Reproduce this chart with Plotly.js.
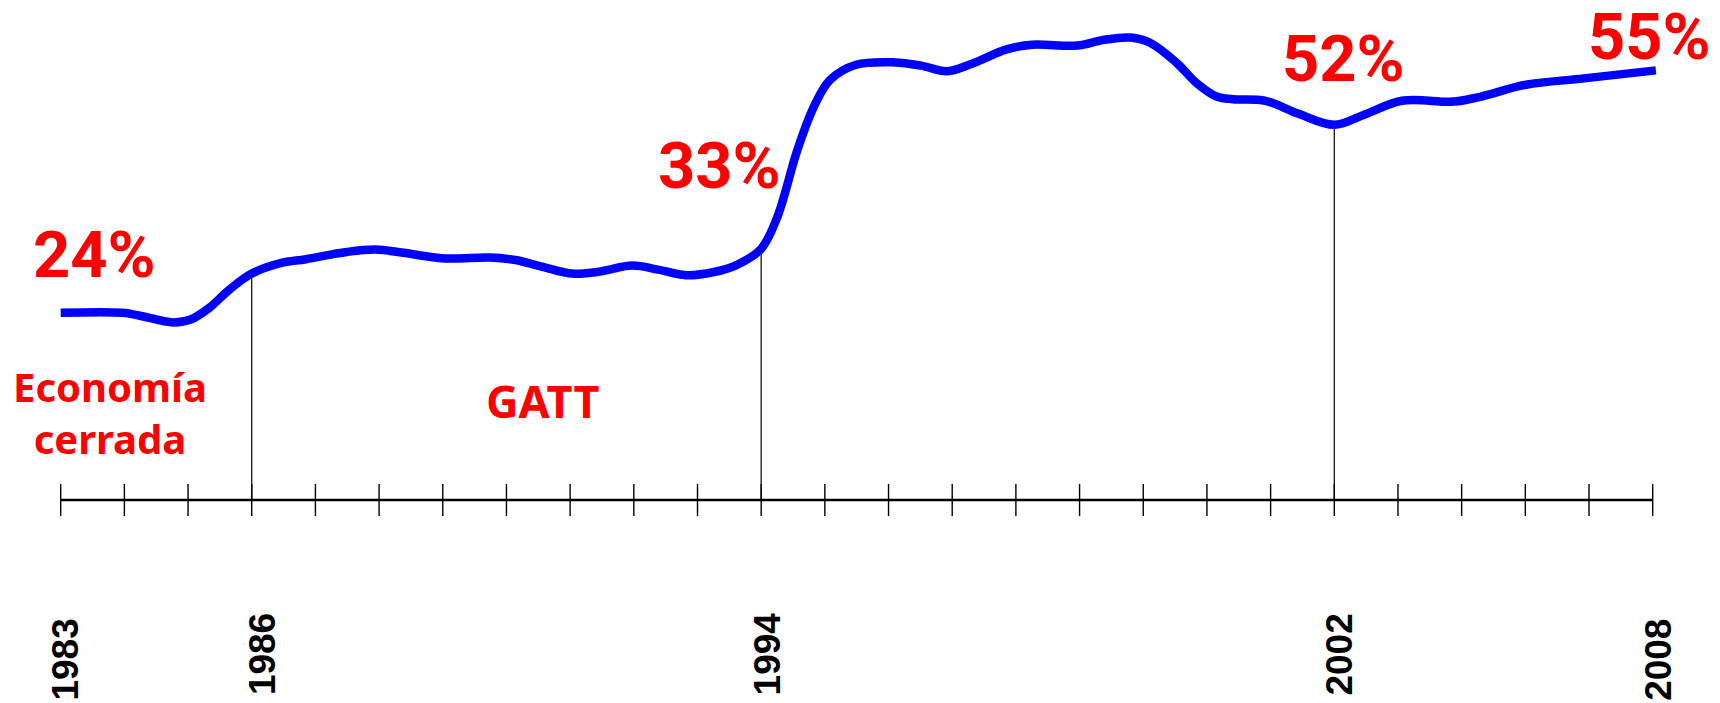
<!DOCTYPE html>
<html>
<head>
<meta charset="utf-8">
<script src="https://cdn.plot.ly/plotly-3.0.1.min.js"></script>
<style>
  html, body { margin: 0; padding: 0; background: #ffffff; }
  #chart { width: 1720px; height: 703px; }
</style>
</head>
<body>
<div id="chart"></div>
<script>
// ---- data (schematic level of trade openness) ----
// x: position along the time axis in yearly tick steps (0 = 1983 ... 25 = 2008)
const curveX = [0, 0.97, 1.21, 1.77, 2.05, 2.33, 2.65, 3, 3.45, 3.85, 4.49, 4.94, 5.38, 6.02, 6.74, 7.14, 7.54, 8.02, 8.42, 8.98, 9.38, 9.82, 10.26, 10.62, 11, 11.25, 11.57, 11.83, 12.08, 12.49, 13.1, 13.51, 13.92, 14.33, 14.84, 15.25, 15.96, 16.37, 16.8, 17.12, 17.53, 17.84, 18.16, 18.41, 18.92, 19.43, 20, 20.45, 21.06, 21.88, 22.29, 23.01, 23.92, 25.05];
const curveY = [23.4, 23.4, 23.1, 22.2, 22.6, 24.0, 26.3, 28.3, 29.6, 30.1, 31.0, 31.3, 30.9, 30.2, 30.3, 30.0, 29.2, 28.3, 28.5, 29.3, 28.8, 28.1, 28.5, 29.4, 31.4, 35.3, 43.8, 49.2, 52.5, 54.4, 54.7, 54.3, 53.6, 54.6, 56.3, 56.9, 56.8, 57.5, 57.8, 57.1, 54.6, 52.1, 50.4, 50.1, 49.9, 48.3, 46.9, 48.1, 49.9, 49.8, 50.4, 51.9, 52.7, 53.7];

const years = [1983, 1984, 1985, 1986, 1987, 1988, 1989, 1990, 1991, 1992, 1993, 1994, 1995, 1996, 1997, 1998, 1999, 2000, 2001, 2002, 2003, 2004, 2005, 2006, 2007, 2008];
const tickPositions = [0, 3, 11, 20, 25];
const tickLabels = ['1983', '1986', '1994', '2002', '2008'];
const markerPositions = [3, 11, 20];       // vertical guide lines
const percentLabels = ['24%', '33%', '52%', '55%'];
const periodLabels = ['Economía<br>cerrada', 'GATT'];

// ---- styles / placement ----
const labelShiftX = [0.08, 0.16, 0.1, 0.08, 0.1];      // horizontal nudge of year labels (axis units)
const labelTopY = [-14.6, -13.9, -13.8, -13.9, -14.6]; // top of year labels (axis units)
const pctPos = [[0.53, 30.6], [10.35, 41.7], [20.14, 55.1], [24.95, 57.9]];
const periodPos = [[0.77, 10.9], [7.57, 12.4]];

const tickIdx = years.map((y, i) => i);
const traces = [];

// vertical guide lines from axis to curve
markerPositions.forEach(p => {
  const yi = curveX.indexOf(p);
  traces.push({
    x: [p, p], y: [0, curveY[yi]], mode: 'lines',
    line: { color: '#000000', width: 1.2 }, hoverinfo: 'skip', showlegend: false
  });
});

// axis baseline
traces.push({
  x: [tickIdx[0], tickIdx[tickIdx.length - 1]], y: [0, 0], mode: 'lines',
  line: { color: '#000000', width: 2.6 }, hoverinfo: 'skip', showlegend: false
});
// tick marks
traces.push({
  x: tickIdx, y: tickIdx.map(() => 0), mode: 'markers',
  marker: { symbol: 'line-ns', size: 23, color: '#000000', line: { color: '#000000', width: 1.4 } },
  hoverinfo: 'skip', showlegend: false
});
// main curve
traces.push({
  x: curveX, y: curveY, mode: 'lines',
  line: { color: '#0000FF', width: 8.5, shape: 'spline', smoothing: 1 },
  hoverinfo: 'skip', showlegend: false
});

const pctFont = { family: 'Roboto, sans-serif', size: 65, color: '#FF0000', weight: 700 };
const txtFont = { family: 'Noto Sans, sans-serif', size: 40, color: '#FF0000', weight: 700 };
const yearFont = { family: 'Liberation Sans, Arial, sans-serif', size: 37, color: '#000000', weight: 700 };

const annotations = percentLabels.map((t, i) => ({
  x: pctPos[i][0], y: pctPos[i][1], xref: 'x', yref: 'y', text: t,
  showarrow: false, xanchor: 'center', yanchor: 'middle', font: pctFont
}));
annotations.push({
  x: periodPos[0][0], y: periodPos[0][1], xref: 'x', yref: 'y', text: periodLabels[0], showarrow: false,
  xanchor: 'center', yanchor: 'middle', align: 'center', font: txtFont
});
annotations.push({
  x: periodPos[1][0], y: periodPos[1][1], xref: 'x', yref: 'y', text: periodLabels[1], showarrow: false,
  xanchor: 'center', yanchor: 'middle', font: Object.assign({}, txtFont, { size: 45 })
});
tickLabels.forEach((t, i) => {
  annotations.push({
    x: tickPositions[i] + labelShiftX[i], y: labelTopY[i], xref: 'x', yref: 'y', text: t,
    showarrow: false, textangle: -90, xanchor: 'center', yanchor: 'top', font: yearFont
  });
});

const layout = {
  width: 1720, height: 703,
  margin: { l: 0, r: 0, t: 0, b: 0, pad: 0 },
  paper_bgcolor: '#ffffff', plot_bgcolor: '#ffffff',
  showlegend: false,
  xaxis: {
    range: [-0.953, 26.057], showgrid: false, zeroline: false, showline: false,
    showticklabels: false, ticks: '', fixedrange: true
  },
  yaxis: {
    range: [-25.375, 62.5], showgrid: false, zeroline: false, showline: false,
    showticklabels: false, ticks: '', fixedrange: true
  },
  annotations: annotations
};

Plotly.newPlot('chart', traces, layout, { staticPlot: true, displayModeBar: false });
</script>
</body>
</html>
